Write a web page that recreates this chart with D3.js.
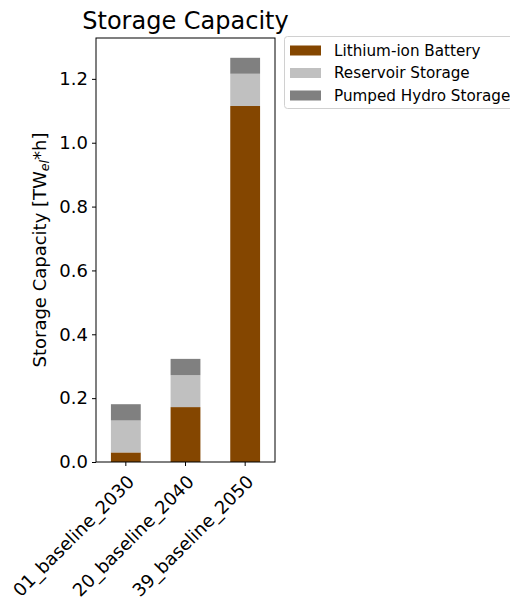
<!DOCTYPE html>
<html><head><meta charset="utf-8">
<script src="https://cdn.jsdelivr.net/npm/d3@7"></script>
<style>body{margin:0;background:#fff;} svg{display:block;font-family:"DejaVu Sans",sans-serif;}</style>
</head><body><svg id="c" width="510" height="601"></svg>
<script>
const categories = ["01_baseline_2030","20_baseline_2040","39_baseline_2050"];
const seriesNames = ["Lithium-ion Battery","Reservoir Storage","Pumped Hydro Storage"];
const lithium = [0.030, 0.172, 1.115];
const reservoir = [0.100, 0.100, 0.101];
const pumped = [0.051, 0.051, 0.050];
const colors = ["#844600","#c0c0c0","#808080"];
const yTicks = [0.0,0.2,0.4,0.6,0.8,1.0,1.2];

const svg = d3.select("#c");
const m = {l:96, r:275, t:38, b:462};
const x = d3.scaleBand().domain(categories).range([m.l, m.r]).paddingInner(0.5).paddingOuter(0.25);
const y = d3.scaleLinear().domain([0, 1.328]).range([m.b, m.t]);

const rows = categories.map((c,i)=>({cat:c, "Lithium-ion Battery":lithium[i], "Reservoir Storage":reservoir[i], "Pumped Hydro Storage":pumped[i]}));
const stack = d3.stack().keys(seriesNames)(rows);

svg.append("g").selectAll("g").data(stack).join("g").attr("fill",(d,i)=>colors[i])
  .selectAll("rect").data(d=>d).join("rect")
  .attr("x",d=>x(d.data.cat)).attr("width",x.bandwidth())
  .attr("y",d=>y(d[1])).attr("height",d=>y(d[0])-y(d[1]));

// axes frame
svg.append("rect").attr("x",m.l).attr("y",m.t).attr("width",m.r-m.l).attr("height",m.b-m.t)
  .attr("fill","none").attr("stroke","#000").attr("stroke-width",1);

const FS = 18;
const yAxis = svg.append("g").attr("transform",`translate(${m.l},0)`)
  .call(d3.axisLeft(y).tickValues(yTicks).tickFormat(d3.format(".1f")).tickSize(4).tickPadding(4));
yAxis.select(".domain").remove();
yAxis.selectAll("text").attr("font-size",FS).attr("font-family","DejaVu Sans").attr("fill","#000");
yAxis.selectAll("line").attr("stroke","#000");

const xAxis = svg.append("g").attr("transform",`translate(0,${m.b})`)
  .call(d3.axisBottom(x).tickSize(4).tickPadding(4));
xAxis.select(".domain").remove();
xAxis.selectAll("line").attr("stroke","#000");
xAxis.selectAll("text").attr("font-size",FS).attr("font-family","DejaVu Sans").attr("fill","#000")
  .attr("text-anchor","end").attr("x",0).attr("y",0).attr("dy",0)
  .attr("transform","translate(9.5,21) rotate(-45)");

// title
svg.append("text").attr("x",(m.l+m.r)/2).attr("y",29).attr("text-anchor","middle")
  .attr("font-size",24).text("Storage Capacity");

// y label
const yl = svg.append("text").attr("transform",`translate(46,${(m.t+m.b)/2}) rotate(-90)`)
  .attr("text-anchor","middle").attr("font-size",FS);
yl.append("tspan").text("Storage Capacity [TW");
yl.append("tspan").attr("font-size",12.6).attr("font-style","italic").attr("baseline-shift","-3").text("el");
yl.append("tspan").text("*h]");

// legend
const lg = svg.append("g");
lg.append("rect").attr("x",284.5).attr("y",36.5).attr("width",240).attr("height",72).attr("rx",3)
  .attr("fill","#fff").attr("stroke","#d0d0d0");
seriesNames.forEach((s,i)=>{
  const yy = 50.5 + i*22.5;
  lg.append("rect").attr("x",290).attr("y",yy-5).attr("width",31).attr("height",10).attr("fill",colors[i]);
  lg.append("text").attr("x",334).attr("y",yy).attr("dy","0.35em").attr("font-size",15.2).text(s);
});
</script></body></html>
